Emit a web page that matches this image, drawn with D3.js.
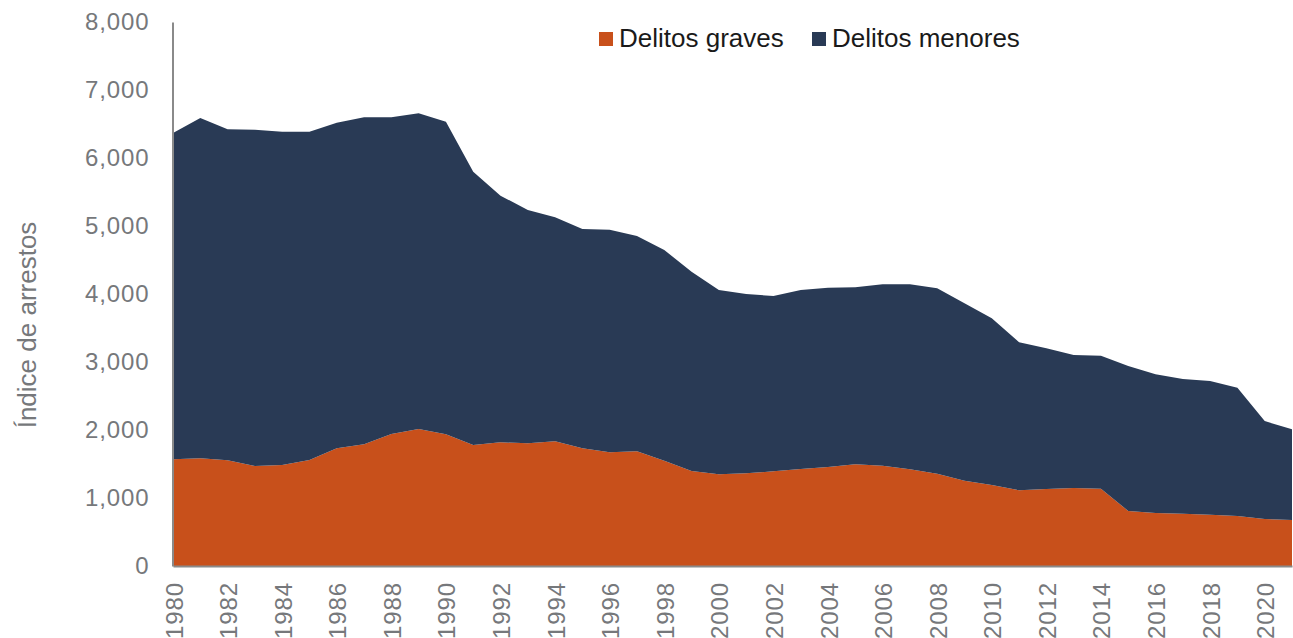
<!DOCTYPE html>
<html>
<head>
<meta charset="utf-8">
<script src="https://cdn.jsdelivr.net/npm/d3@7"></script>
<style>
  html, body { margin: 0; padding: 0; background: #fff; }
  svg { display: block; }
</style>
</head>
<body>
<svg id="chart" width="1293" height="638"></svg>
<script>
const years = [1980,1981,1982,1983,1984,1985,1986,1987,1988,1989,1990,1991,1992,1993,1994,1995,1996,1997,1998,1999,2000,2001,2002,2003,2004,2005,2006,2007,2008,2009,2010,2011,2012,2013,2014,2015,2016,2017,2018,2019,2020,2021];
const graves = [1569,1583,1554,1471,1485,1559,1731,1789,1941,2015,1936,1779,1819,1804,1835,1730,1672,1686,1549,1397,1348,1363,1392,1426,1456,1495,1475,1422,1355,1255,1191,1113,1132,1147,1137,809,779,770,755,735,691,676];
const menores = [4799,5005,4868,4945,4902,4828,4788,4809,4657,4642,4598,4020,3627,3431,3293,3226,3274,3167,3098,2931,2711,2637,2579,2633,2637,2603,2667,2720,2729,2608,2451,2177,2069,1956,1956,2132,2040,1980,1966,1887,1441,1334];
const seriesNames = ["Delitos graves", "Delitos menores"];
const seriesColors = ["#C8501B", "#293A55"];
const yTicks = [0,1000,2000,3000,4000,5000,6000,7000,8000];
const xTickYears = [1980,1982,1984,1986,1988,1990,1992,1994,1996,1998,2000,2002,2004,2006,2008,2010,2012,2014,2016,2018,2020];
const yTitle = "Índice de arrestos";

const svg = d3.select("#chart");
const mLeft = 173, mRight = 1292, mTop = 22, mBottom = 566;

const x = d3.scaleLinear().domain([1980, 2021]).range([mLeft, mRight]);
const y = d3.scaleLinear().domain([0, 8000]).range([mBottom, mTop]);

const rows = years.map((yr, i) => ({year: yr, graves: graves[i], menores: menores[i]}));
const stacked = d3.stack().keys(["graves", "menores"])(rows);

const area = d3.area()
  .x(d => x(d.data.year))
  .y0(d => y(d[0]))
  .y1(d => y(d[1]));

svg.append("g").selectAll("path")
  .data(stacked)
  .join("path")
  .attr("d", area)
  .attr("fill", (d, i) => seriesColors[i]);

// Y axis
const yAxis = svg.append("g")
  .attr("transform", `translate(${mLeft - 0.5},0)`)
  .call(d3.axisLeft(y).tickValues(yTicks).tickSize(0).tickPadding(23).tickFormat(d3.format(",")));
yAxis.select(".domain").attr("stroke", "#8a8a8a").attr("stroke-width", 2);
yAxis.selectAll("text")
  .attr("fill", "#76787b")
  .style("font-family", "'Liberation Sans', Arial, sans-serif")
  .style("font-size", "24px")
  .style("letter-spacing", "0.9px");

// X axis
const xAxis = svg.append("g")
  .attr("transform", `translate(0,${mBottom})`)
  .call(d3.axisBottom(x).tickValues(xTickYears).tickSize(0).tickPadding(0).tickFormat(d3.format("d")));
xAxis.select(".domain").attr("stroke", "#8a8a8a").attr("stroke-width", 2);
xAxis.selectAll("text")
  .attr("fill", "#76787b")
  .style("font-family", "'Liberation Sans', Arial, sans-serif")
  .style("font-size", "24px")
  .style("letter-spacing", "0.9px")
  .attr("text-anchor", "end")
  .attr("dy", null)
  .attr("y", 0)
  .attr("transform", "translate(9,16) rotate(-90)");

// Y title
svg.append("text")
  .attr("transform", "translate(36,325) rotate(-90)")
  .attr("text-anchor", "middle")
  .attr("fill", "#76787b")
  .style("font-family", "'Liberation Sans', Arial, sans-serif")
  .style("font-size", "26px")
  .text(yTitle);

// Legend
const legendX = [599, 812];
const lg = svg.append("g");
seriesNames.forEach((name, i) => {
  lg.append("rect")
    .attr("x", legendX[i]).attr("y", 32)
    .attr("width", 14).attr("height", 14)
    .attr("fill", seriesColors[i]);
  lg.append("text")
    .attr("x", legendX[i] + 20).attr("y", 47)
    .attr("fill", "#1a1a1a")
    .style("font-family", "'Liberation Sans', Arial, sans-serif")
    .style("font-size", "26px")
    .text(name);
});
</script>
</body>
</html>
